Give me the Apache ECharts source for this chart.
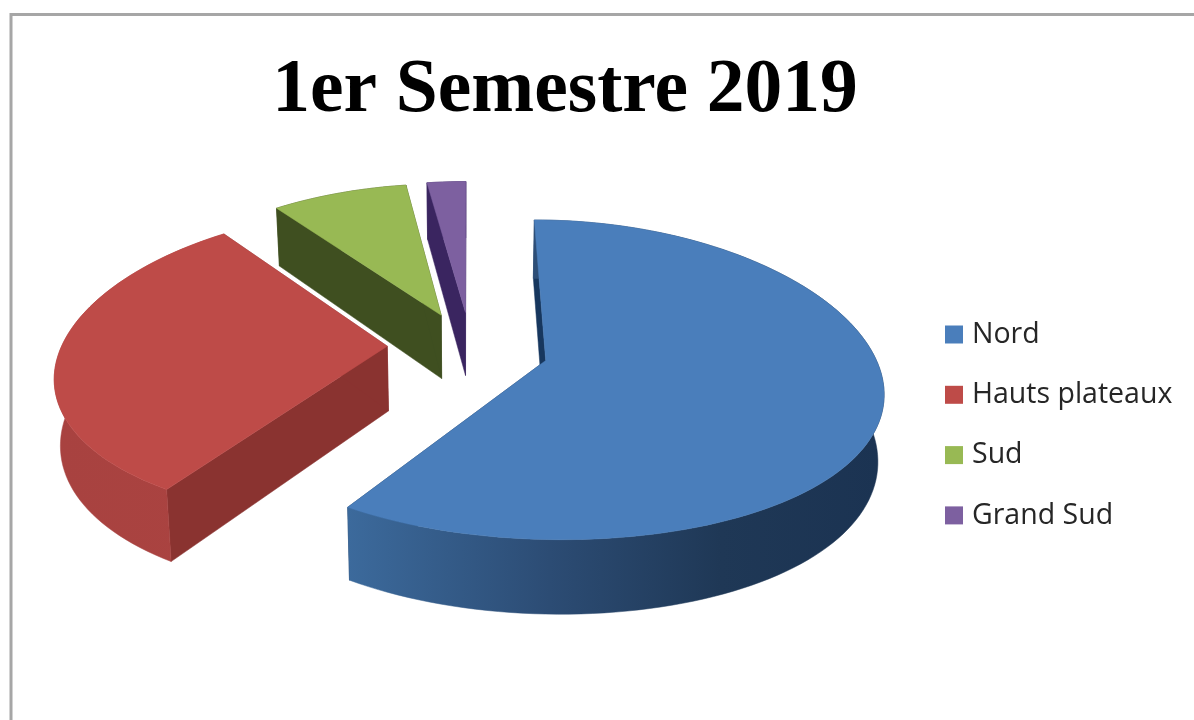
<!DOCTYPE html>
<html>
<head>
<meta charset="utf-8">
<style>
  html, body { margin: 0; padding: 0; background: #fff; }
  #chart { width: 1194px; height: 720px; }
</style>
</head>
<body>
<div id="chart"></div>
<script src="https://cdn.jsdelivr.net/npm/echarts@6/dist/echarts.min.js"></script>
<script>
const titleText = "1er Semestre 2019";
const categories = ["Nord", "Hauts plateaux", "Sud", "Grand Sud"];
const values = [59.2, 30.5, 8, 2.3];

const topColors = ["#4a7ebb", "#be4b48", "#98b954", "#7d60a0"];
const edgeColors = ["#17375e", "#8a3330", "#3f4f20", "#3a2560"];
const wallStops = [
  [[0, "#3c6a9c"], [0.38, "#2c4c74"], [0.7, "#1f3856"], [1, "#1b3352"]],
  [[0, "#a84240"], [1, "#ad4441"]],
  [[0, "#3f4f20"], [1, "#3f4f20"]],
  [[0, "#3a2560"], [1, "#3a2560"]]
];

// how far each slice is pulled out of the pie, in disc units
const pullU = [0.235, -0.248, -0.085, -0.008];
const pullV = [0.067, -0.025, -0.23, -0.25];

// pie projection, Excel style tilted disc with some perspective
const cx = 468, cy = 350, rx = 327, ry = 155, perspX = 0.17, perspY = 0.12;
const thick = 65, shrink = 0.985;
const total = values.reduce((a, b) => a + b, 0);

function projTop(u, v) {
  return [cx + rx * u / (1 - perspX * v), cy + ry * v / (1 - perspY * v)];
}
function projBottom(u, v) {
  const p = projTop(u, v);
  return [cx + (p[0] - cx) * shrink, p[1] + thick / (1 - perspY * v)];
}

function renderSlice(idx, params, api) {
  const value = api.value(0);
  let before = 0;
  for (let i = 0; i < idx; i++) before += values[i];
  const a0 = before / total * Math.PI * 2;
  const a1 = (before + value) / total * Math.PI * 2;
  const ou = pullU[idx];
  const ov = pullV[idx];

  const rim = [];
  const steps = Math.max(2, Math.ceil((a1 - a0) / 0.03));
  for (let i = 0; i <= steps; i++) {
    const a = a0 + (a1 - a0) * i / steps;
    rim.push([ou + Math.sin(a), ov - Math.cos(a)]);
  }
  const apex = [ou, ov];
  const rimTop = rim.map((p) => projTop(p[0], p[1]));
  const rimBottom = rim.map((p) => projBottom(p[0], p[1]));

  const wallFill = {
    type: "linear", global: true, x: 60, y: 0, x2: 880, y2: 0,
    colorStops: wallStops[idx].map((s) => ({ offset: s[0], color: s[1] }))
  };
  if (idx === 0) { wallFill.x = 347; }
  if (idx === 1) { wallFill.x = 57; wallFill.x2 = 390; }

  const poly = (points, fill) => ({
    type: "polygon",
    shape: { points: points },
    style: { fill: fill, stroke: fill, lineWidth: 0.5 }
  });
  const edge = (p) => poly([projTop(p[0], p[1]), projBottom(p[0], p[1]), projBottom(apex[0], apex[1]), projTop(apex[0], apex[1])], edgeColors[idx]);

  return {
    type: "group",
    children: [
      edge(rim[0]),
      edge(rim[rim.length - 1]),
      poly(rimTop.concat(rimBottom.slice().reverse()), wallFill),
      poly([projTop(apex[0], apex[1])].concat(rimTop), topColors[idx])
    ]
  };
}

const chart = echarts.init(document.getElementById("chart"));
chart.setOption({
  animation: false,
  backgroundColor: "#fff",
  title: {
    text: titleText,
    left: 560,
    top: 48,
    textAlign: "center",
    textStyle: { fontFamily: "Liberation Serif", fontWeight: "bold", fontSize: 75.5, color: "#000" }
  },
  legend: {
    orient: "vertical",
    left: 945,
    top: 320,
    padding: 0,
    icon: "rect",
    itemWidth: 18,
    itemHeight: 18,
    itemGap: 31.3,
    data: categories,
    textStyle: { fontFamily: "Open Sans", fontSize: 28.5, color: "#262626", padding: [2, 0, 0, 4] }
  },
  graphic: [{
    type: "polyline",
    silent: true,
    shape: { points: [[11, 720], [11, 14.5], [1194, 14.5]] },
    style: { stroke: "#a6a6a6", lineWidth: 3, fill: null }
  }],
  series: categories.map((name, i) => ({
    name: name,
    type: "custom",
    coordinateSystem: "none",
    silent: true,
    itemStyle: { color: topColors[i] },
    renderItem: (params, api) => renderSlice(i, params, api),
    data: [[values[i]]]
  }))
});
</script>
</body>
</html>
